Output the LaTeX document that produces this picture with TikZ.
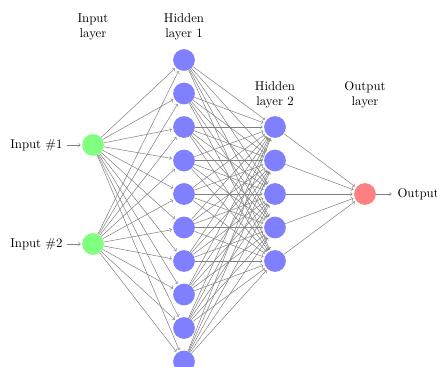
\documentclass[tikz,border=0pt]{standalone}
\usetikzlibrary{positioning}

\tikzset{
  neuron/.style={circle,fill=black!25,minimum size=17pt,inner sep=0pt},
  input neuron/.style={neuron,fill=green!50},
  hidden neuron/.style={neuron,fill=blue!50},
  output neuron/.style={neuron,fill=red!50},
  annot/.style={align=center},
}

\begin{document}
\begin{tikzpicture}[x=0.0275cm,y=-0.0275cm,shorten >=1pt,draw=black!50]
\useasboundingbox (0,0) rectangle (437,367);

% Input layer
\node[input neuron] (I-1) at (93,145) {};
\node[input neuron] (I-2) at (93,244) {};
\node[anchor=east] (L-1) at (67,145) {Input \#1};
\node[anchor=east] (L-2) at (67,244) {Input \#2};
\draw[->] (L-1) -- (I-1);
\draw[->] (L-2) -- (I-2);

% Hidden layers
\foreach \j in {1,...,10}
  \node[hidden neuron] (H1-\j) at (184,{60+(\j-1)*33.5}) {};
\foreach \k in {1,...,5}
  \node[hidden neuron] (H2-\k) at (275,{127+(\k-1)*33.5}) {};

% Output layer
\node[output neuron] (O) at (365,194) {};
\node[anchor=west] (L-O) at (393,194) {Output};
\draw[->] (O) -- (L-O);

% Connections
\foreach \i in {1,2}
  \foreach \j in {1,...,10}
    \draw[->] (I-\i) -- (H1-\j);
\foreach \j in {1,...,10}
  \foreach \k in {1,...,5}
    \draw[->] (H1-\j) -- (H2-\k);
\foreach \k in {1,...,5}
  \draw[->] (H2-\k) -- (O);

% Layer titles
\node[annot] (T-I) at (93,27) {Input\\layer};
\node[annot] (T-H1) at (184,27) {Hidden\\layer 1};
\node[annot] (T-H2) at (275,95) {Hidden\\layer 2};
\node[annot] (T-O) at (365,95) {Output\\layer};

\end{tikzpicture}
\end{document}
